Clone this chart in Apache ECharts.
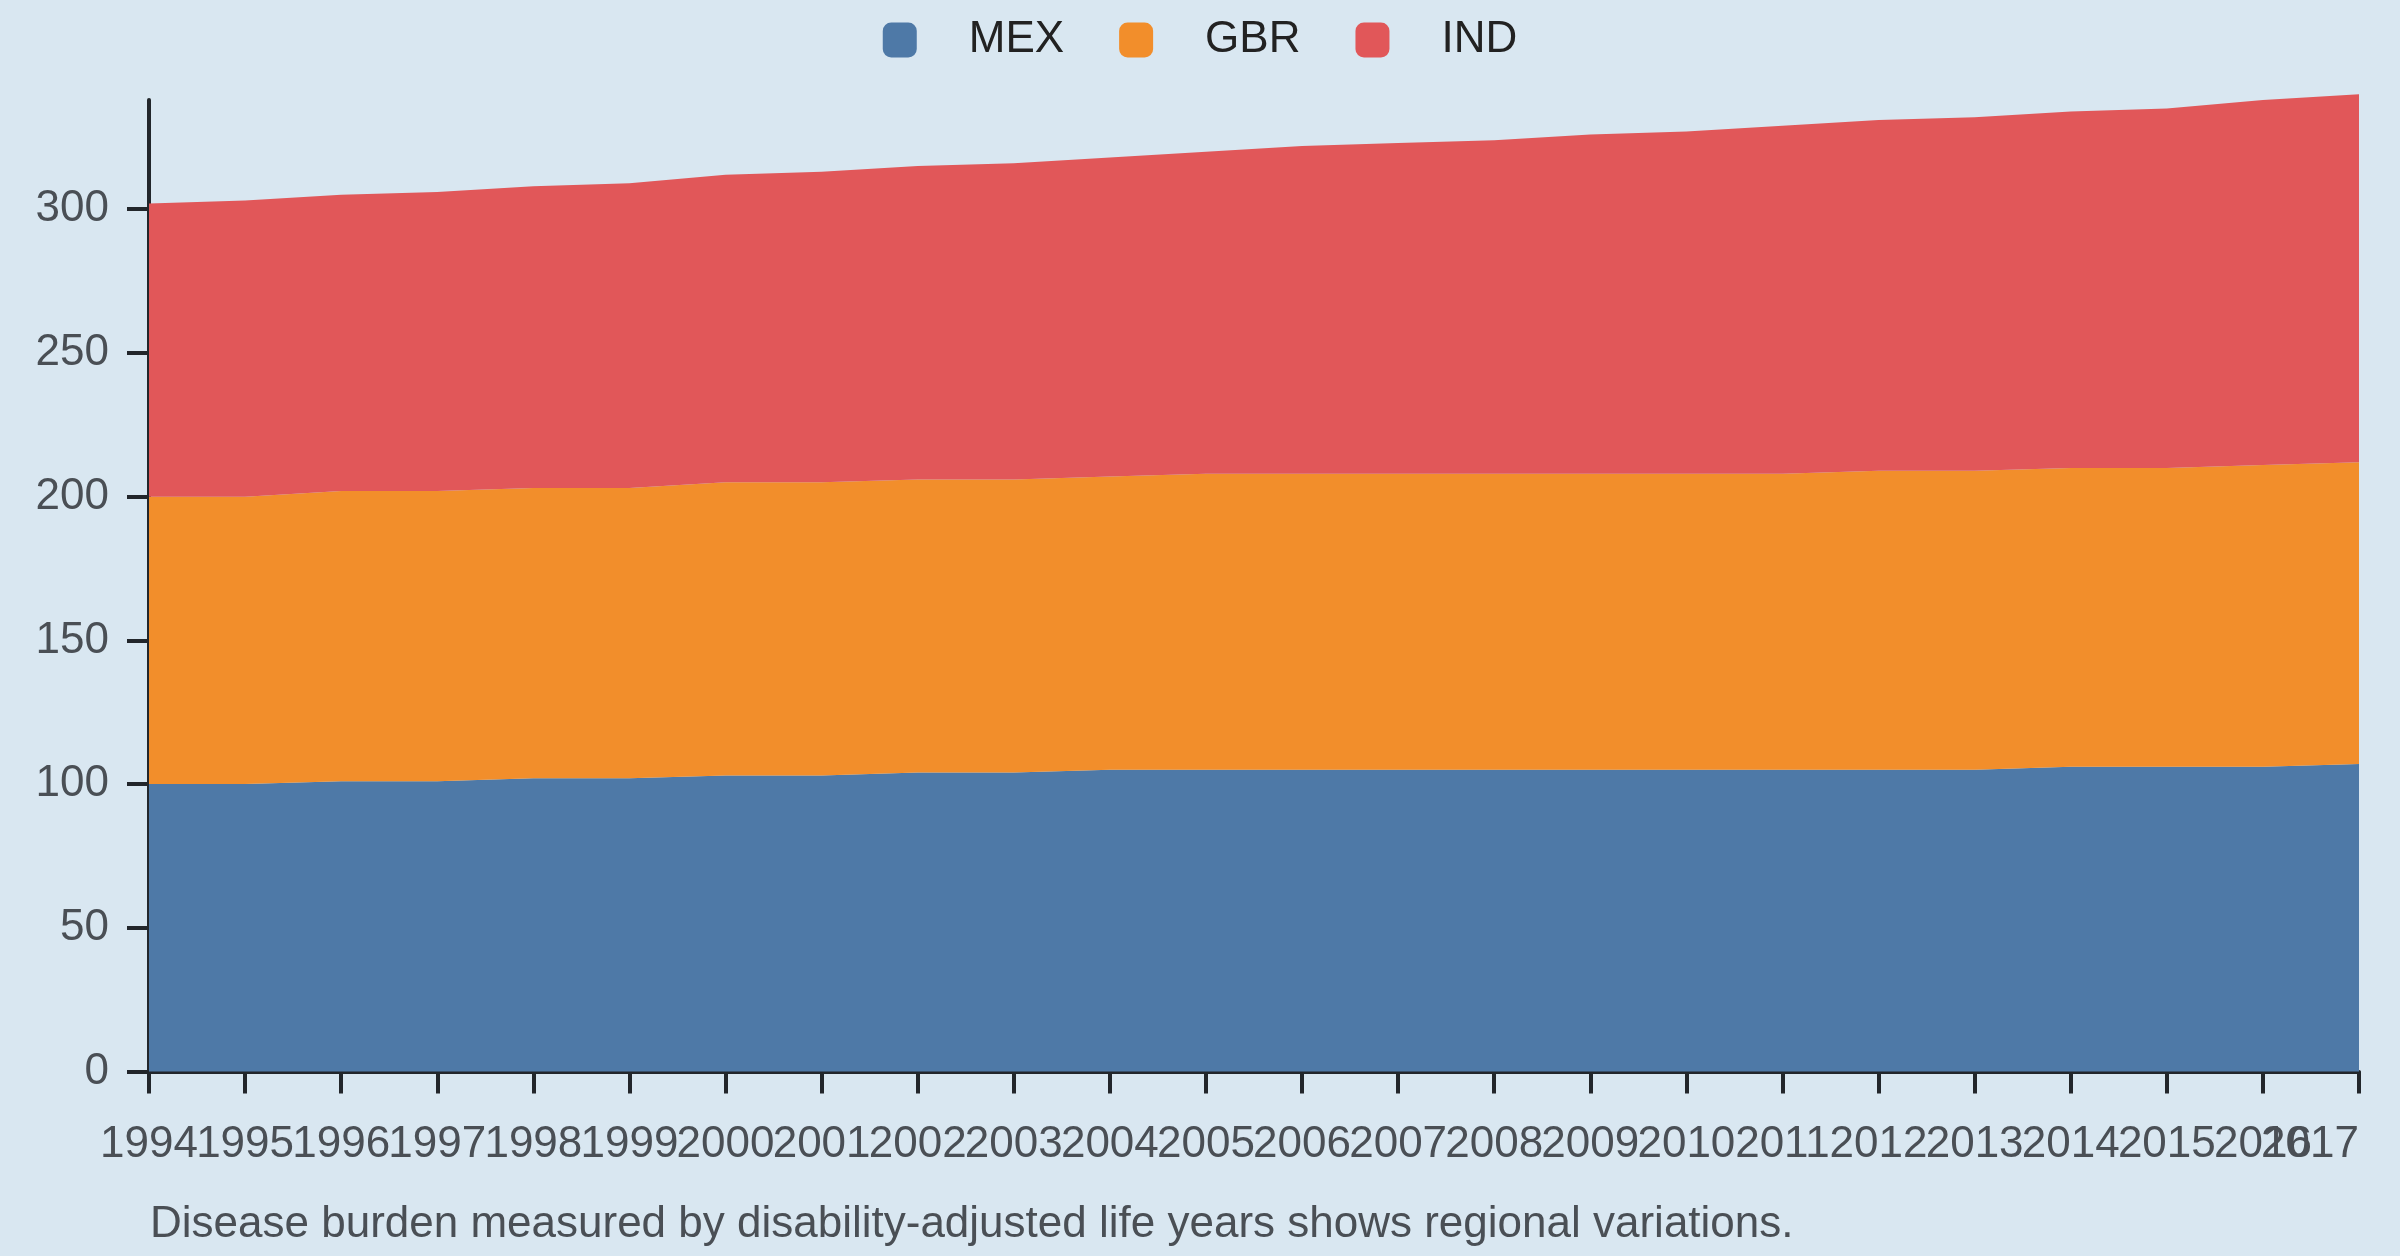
<!DOCTYPE html>
<html>
<head>
<meta charset="utf-8">
<script src="https://cdn.jsdelivr.net/npm/echarts@6/dist/echarts.min.js"></script>
<style>
  html, body { margin: 0; padding: 0; background: #d9e7f1; }
  #chart { width: 2400px; height: 1256px; }
</style>
</head>
<body>
<div id="chart"></div>
<script>
var years = ['1994','1995','1996','1997','1998','1999','2000','2001','2002','2003','2004','2005',
             '2006','2007','2008','2009','2010','2011','2012','2013','2014','2015','2016','2017'];
var mex = [100,100,101,101,102,102,103,103,104,104,105,105,105,105,105,105,105,105,105,105,106,106,106,107];
var gbr = [100,100,101,101,101,101,102,102,102,102,102,103,103,103,103,103,103,103,104,104,104,104,105,105];
var ind = [102,103,103,104,105,106,107,108,109,110,111,112,114,115,116,118,119,121,122,123,124,125,127,128];
var seriesNames = ['MEX', 'GBR', 'IND'];
var colors = ['#4e79a7', '#f28e2b', '#e15759'];
var caption = 'Disease burden measured by disability-adjusted life years shows regional variations.';

var font = '"Liberation Sans", Arial, sans-serif';
var axisColor = '#22262b';

function makeSeries(name, values) {
  return {
    name: name,
    type: 'line',
    stack: 'total',
    data: values,
    showSymbol: false,
    clip: false,
    lineStyle: { width: 0 },
    areaStyle: { opacity: 1 },
    emphasis: { disabled: true }
  };
}

var chart = echarts.init(document.getElementById('chart'));
chart.setOption({
  backgroundColor: '#d9e7f1',
  color: colors,
  animation: false,
  title: {
    text: caption,
    left: 145,
    top: 1198,
    textStyle: { fontFamily: font, fontSize: 44, fontWeight: 'normal', color: '#4a4f55' }
  },
  legend: {
    data: seriesNames,
    left: 'center',
    top: 13,
    itemWidth: 34,
    itemHeight: 35,
    itemGap: 55,
    icon: 'roundRect',
    textStyle: { fontFamily: font, fontSize: 44, color: '#222', padding: [0, 0, 0, 47] }
  },
  grid: { left: 149, right: 41, top: 100, bottom: 184.5, containLabel: false },
  xAxis: {
    type: 'category',
    data: years,
    boundaryGap: false,
    axisLine: { lineStyle: { color: axisColor, width: 4 } },
    axisTick: { length: 22, lineStyle: { color: axisColor, width: 4 }, interval: 0 },
    axisLabel: {
      interval: 0, margin: 51, fontFamily: font, fontSize: 44, color: '#4a4f55',
      alignMaxLabel: 'right'
    },
    splitLine: { show: false }
  },
  yAxis: {
    type: 'value',
    min: 0,
    max: 338,
    interval: 50,
    axisLine: { show: true, lineStyle: { color: axisColor, width: 4 } },
    axisTick: { show: true, length: 22, lineStyle: { color: axisColor, width: 4 } },
    axisLabel: { margin: 40, fontFamily: font, fontSize: 44, color: '#4a4f55', showMaxLabel: false },
    splitLine: { show: false }
  },
  series: [
    makeSeries(seriesNames[0], mex),
    makeSeries(seriesNames[1], gbr),
    makeSeries(seriesNames[2], ind)
  ]
});
</script>
</body>
</html>
